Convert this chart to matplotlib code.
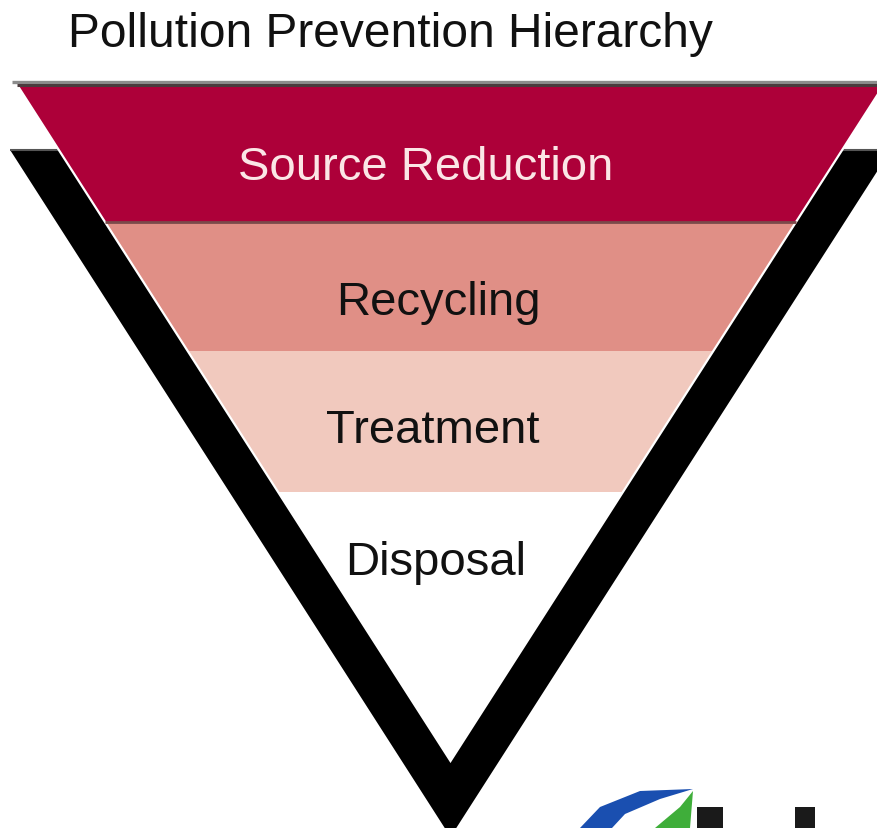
import matplotlib.pyplot as plt
from matplotlib.patches import Polygon, Rectangle

title = "Pollution Prevention Hierarchy"
levels = ["Source Reduction", "Recycling", "Treatment", "Disposal"]
band_edges = [85, 223, 352, 493, 762]   # top of each level, last one is the tip
band_colors = ["#ad0039", "#e08f86", "#f1c9be", "#ffffff"]
text_colors = ["#fbe6e6", "#111111", "#111111", "#111111"]

W, H = 878, 829
cx = 450.5
slope = 0.641   # horizontal run per pixel of drop


def half(y, apex):
    return (apex - y) * slope


fig = plt.figure(figsize=(W / 100, H / 100), dpi=100)
ax = fig.add_axes([0, 0, 1, 1])
ax.set_xlim(0, W)
ax.set_ylim(H, 0)
ax.axis("off")

apex = band_edges[-1]

# black V behind the funnel
top_v = 151
outer_apex = 838
v = [(cx - half(top_v, outer_apex), top_v), (cx, outer_apex),
     (cx + half(top_v, outer_apex), top_v),
     (cx + half(top_v, apex), top_v), (cx, apex),
     (cx - half(top_v, apex), top_v)]
ax.add_patch(Polygon(v, closed=True, fc="black", ec="none", zorder=1))
ax.plot([cx - half(top_v, outer_apex), cx - half(top_v, apex)], [top_v, top_v],
        color="#555555", lw=1.5, zorder=1.5, solid_capstyle="butt")
ax.plot([cx + half(top_v, apex), W], [top_v, top_v],
        color="#555555", lw=1.5, zorder=1.5, solid_capstyle="butt")

# coloured bands
for i, name in enumerate(levels):
    y0, y1 = band_edges[i], band_edges[i + 1]
    pts = [(cx - half(y0, apex), y0), (cx + half(y0, apex), y0),
           (cx + half(y1, apex), y1), (cx - half(y1, apex), y1)]
    ax.add_patch(Polygon(pts, closed=True, fc=band_colors[i], ec="none", zorder=2))

# thin white rim along the funnel sides
top = band_edges[0]
ax.plot([cx - half(top, apex), cx, cx + half(top, apex)], [top, apex, top],
        color="white", lw=1.6, zorder=3, solid_joinstyle="miter")

# lines at top of funnel and under first band
ax.plot([12, W], [82.5, 82.5], color="#8c8c8c", lw=2.4, zorder=4, solid_capstyle="butt")
ax.plot([cx - half(85.5, apex), W], [85.5, 85.5], color="#4a3a3d", lw=2.2, zorder=4,
        solid_capstyle="butt")
y = band_edges[1]
ax.plot([cx - half(y, apex), cx + half(y, apex)], [y, y], color="#7a4a4a", lw=2.0,
        zorder=4, solid_capstyle="butt")

# labels
label_x = [426, 438, 433, 436]
label_base = [180, 315, 443, 575]
for i, name in enumerate(levels):
    ax.text(label_x[i], label_base[i], name, ha="center", va="baseline",
            fontsize=34, color=text_colors[i], family="Liberation Sans", zorder=5)

ax.text(68, 47, title, ha="left", va="baseline", fontsize=34.5,
        family="Liberation Sans", color="#111111")

# partial logo cut off at the bottom right
ax.add_patch(Polygon([(580, 829), (600, 808), (640, 792), (693, 790), (660, 800),
                      (625, 815), (612, 829)], closed=True, fc="#1a4fb0", ec="none"))
ax.add_patch(Polygon([(655, 829), (680, 808), (693, 792), (690, 829)], closed=True,
                     fc="#3fae3a", ec="none"))
ax.add_patch(Rectangle((697, 808), 26, 21, fc="#1a1a1a", ec="none"))
ax.add_patch(Rectangle((795, 808), 20, 21, fc="#1a1a1a", ec="none"))

fig.savefig("out.png", dpi=100)
